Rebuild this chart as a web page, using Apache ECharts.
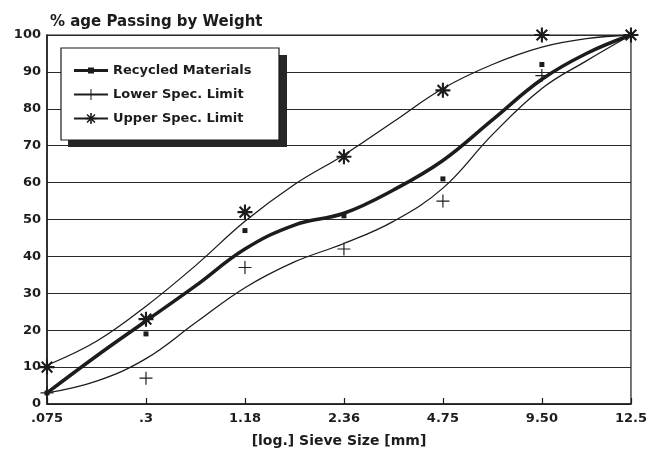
<!DOCTYPE html>
<html>
<head>
<meta charset="utf-8">
<script src="https://cdn.jsdelivr.net/npm/echarts@6/dist/echarts.min.js"></script>
<style>
  html, body { margin: 0; padding: 0; background: #fff; }
  #gradChart { width: 650px; height: 454px; }
</style>
</head>
<body>
<div id="gradChart"></div>
<script>
// sieve sizes (log axis drawn as evenly spaced steps, last one is a short step)
var sieveLabels = ['.075', '.3', '1.18', '2.36', '4.75', '9.50', '12.5'];
var sievePos = [0, 1, 2, 3, 4, 5, 5.9];

// fitted curves, read at the sieves and half way between them
var curvePos = [0, 0.5, 1, 1.5, 2, 2.5, 3, 3.5, 4, 4.5, 5, 5.45, 5.9];
var recycledCurve = [3, 13, 22.5, 32, 42, 48.5, 51.7, 58, 66, 77, 88, 95, 100];
var lowerCurve = [3, 6.2, 12.3, 22, 31.5, 38.5, 43.5, 49.5, 58.5, 73, 85.5, 93, 100];
var upperCurve = [10.5, 17, 26.5, 37.5, 49.5, 59.5, 67.5, 76.5, 85.5, 92, 96.7, 99, 100];

// measured points at the sieves
var recycledPts = [3, 19, 47, 51, 61, 92, 100];
var lowerPts = [3, 7, 37, 42, 55, 89, 100];
var upperPts = [10, 23, 52, 67, 85, 100, 100];

var ink = "#1c1c1c";
var fontFam = "DejaVu Sans";

// thin bars through a centre -> "+" and "*" symbols
function barsPath(angles, r, w) {
  var d = "path://";
  angles.forEach(function (a) {
    var rad = a * Math.PI / 180;
    var cx = Math.cos(rad), cy = Math.sin(rad);
    var nx = -cy * w, ny = cx * w;
    var pts = [
      [cx * r + nx, cy * r + ny],
      [-cx * r + nx, -cy * r + ny],
      [-cx * r - nx, -cy * r - ny],
      [cx * r - nx, cy * r - ny]
    ];
    d += "M" + pts.map(function (p) {
      return (p[0] + r).toFixed(2) + "," + (p[1] + r).toFixed(2);
    }).join("L") + "Z";
  });
  return d;
}
var plusSym = barsPath([0, 90], 10, 0.9);
var starSym = barsPath([0, 45, 90, 135], 10, 1.4);
var recycledIcon = "path://M0,1.6H14V0H20V1.6H34V4.4H20V6H14V4.4H0Z";

function pairs(xs, vals) {
  return vals.map(function (v, i) {
    return [xs[i], v];
  });
}
function sieveLabel(v) {
  for (var i = 0; i < sievePos.length; i++) {
    if (Math.abs(sievePos[i] - v) < 0.01) return sieveLabels[i];
  }
  return "";
}

var chart = echarts.init(document.getElementById("gradChart"));
var option = {
  animation: false,
  backgroundColor: "#fff",
  textStyle: { fontFamily: fontFam },
  title: {
    text: "% age Passing by Weight",
    left: 45,
    top: 10,
    textStyle: { fontFamily: fontFam, fontSize: 15, fontWeight: "bold", color: ink },
  },
  grid: {
    left: 47,
    right: 18,
    top: 35,
    bottom: 50,
    show: true,
    borderColor: ink,
    borderWidth: 1.2,
  },
  // legend frame with its hard drop shadow
  graphic: [
    {
      type: "rect",
      z: 3,
      shape: { x: 68, y: 55, width: 219, height: 92 },
      style: { fill: "#262626" },
    },
    {
      type: "rect",
      z: 3,
      shape: { x: 61, y: 48, width: 218, height: 92 },
      style: { fill: "#fff", stroke: ink, lineWidth: 1.2 },
    },
  ],
  legend: {
    orient: "vertical",
    left: 61,
    top: 48,
    padding: [16, 29, 12, 12],
    itemWidth: 34,
    itemHeight: 14,
    itemGap: 11,
    selectedMode: false,
    textStyle: { fontFamily: fontFam, fontSize: 13, fontWeight: "bold", color: ink },
    data: [
      { name: "Recycled Materials", icon: recycledIcon },
      "Lower Spec. Limit",
      "Upper Spec. Limit",
    ],
  },
  xAxis: {
    type: "value",
    min: 0,
    max: 5.9,
    interval: 1,
    name: "[log.] Sieve Size [mm]",
    nameLocation: "middle",
    nameGap: 30,
    nameTextStyle: { fontFamily: fontFam, fontSize: 14, fontWeight: "bold", color: ink },
    axisLine: { show: true, lineStyle: { color: ink, width: 1.5 } },
    axisTick: { show: true, inside: true, length: 6, lineStyle: { color: ink, width: 1.2 } },
    splitLine: { show: false },
    axisLabel: {
      margin: 8,
      fontFamily: fontFam,
      fontSize: 13,
      fontWeight: "bold",
      color: ink,
      formatter: sieveLabel,
    },
  },
  yAxis: {
    type: "value",
    min: 0,
    max: 100,
    interval: 10,
    axisLine: { show: true, lineStyle: { color: ink, width: 1.5 } },
    axisTick: { show: false },
    splitLine: { lineStyle: { color: "#2a2a2a", width: 1.2 } },
    axisLabel: { margin: 6, fontFamily: fontFam, fontSize: 13, fontWeight: "bold", color: ink },
  },
  series: [
    {
      name: "Recycled Materials",
      type: "line",
      smooth: 0.4,
      showSymbol: false,
      symbol: "rect",
      z: 4,
      lineStyle: { color: ink, width: 3.5 },
      itemStyle: { color: ink, borderWidth: 0 },
      data: pairs(curvePos, recycledCurve),
    },
    {
      name: "Lower Spec. Limit",
      type: "line",
      smooth: 0.4,
      showSymbol: false,
      symbol: plusSym,
      z: 4,
      lineStyle: { color: ink, width: 1.3 },
      itemStyle: { color: ink, borderWidth: 0 },
      data: pairs(curvePos, lowerCurve),
    },
    {
      name: "Upper Spec. Limit",
      type: "line",
      smooth: 0.4,
      showSymbol: false,
      symbol: starSym,
      z: 4,
      lineStyle: { color: ink, width: 1.3 },
      itemStyle: { color: ink, borderWidth: 0 },
      data: pairs(curvePos, upperCurve),
    },
    {
      name: "Recycled Materials",
      type: "scatter",
      symbol: "rect",
      symbolSize: 5,
      z: 5,
      itemStyle: { color: ink, opacity: 1 },
      data: pairs(sievePos, recycledPts),
    },
    {
      name: "Lower Spec. Limit",
      type: "scatter",
      symbol: plusSym,
      symbolSize: 13,
      z: 5,
      itemStyle: { color: ink, opacity: 1 },
      data: pairs(sievePos, lowerPts),
    },
    {
      name: "Upper Spec. Limit",
      type: "scatter",
      symbol: starSym,
      symbolSize: 15,
      z: 5,
      itemStyle: { color: ink, opacity: 1 },
      data: pairs(sievePos, upperPts),
    },
  ],
};
chart.setOption(option);
</script>
</body>
</html>
